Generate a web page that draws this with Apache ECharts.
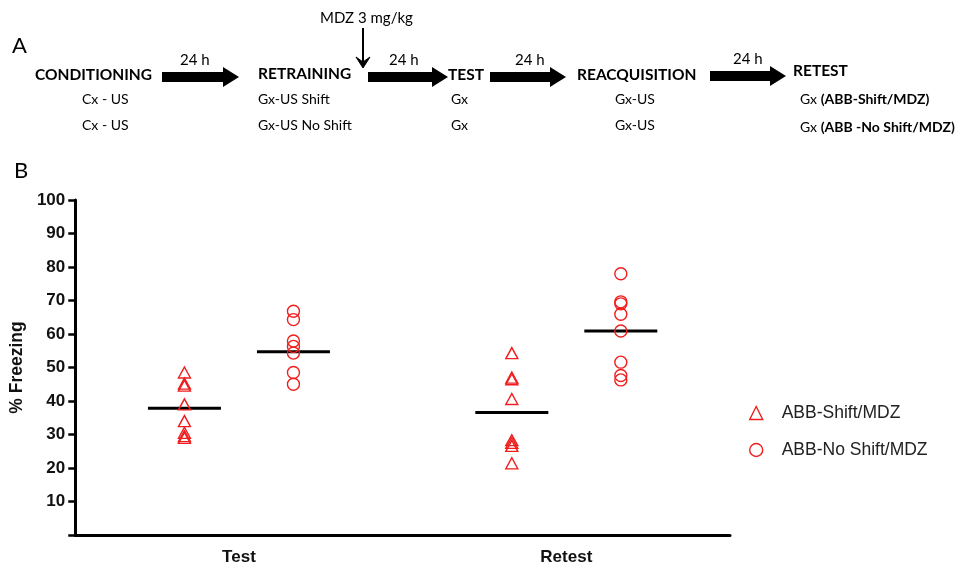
<!DOCTYPE html>
<html>
<head>
<meta charset="utf-8">
<script src="https://cdn.jsdelivr.net/npm/echarts@6/dist/echarts.min.js"></script>
<style>
html,body{margin:0;padding:0;background:#fff;}
#chart{width:974px;height:570px;}
</style>
</head>
<body>
<div id="chart"></div>
<script>
// ---- data ----
var categories = ['Test', 'Retest'];
var seriesNames = ['ABB-Shift/MDZ', 'ABB-No Shift/MDZ'];
var shiftTest = [48.5, 45.2, 44.6, 39.0, 34.0, 30.5, 29.5, 29.0];
var shiftRetest = [54.3, 47.0, 46.5, 40.6, 28.3, 27.5, 26.6, 21.4];
var noShiftTest = [66.8, 64.3, 57.9, 56.3, 54.3, 48.5, 45.0];
var noShiftRetest = [78.0, 69.6, 69.0, 65.9, 60.9, 51.6, 47.6, 46.3];
var shiftMeans = [37.8, 36.6];
var noShiftMeans = [54.7, 60.9];
var yTicks = [10, 20, 30, 40, 50, 60, 70, 80, 90, 100];

function pts(a, b) {
  return a.map(function (v) { return [0, v]; }).concat(b.map(function (v) { return [1, v]; }));
}
function meanPts(m) { return m.map(function (v, i) { return [i, v]; }); }

var RED = '#f01e1e';
var DODGE = 54.5;
var chart = echarts.init(document.getElementById('chart'));

var bodyFont = 'Lato, "Open Sans", sans-serif';
var axisFont = '"Liberation Sans", Arial, sans-serif';
function arrow(x0, x1, cy) {
  return {
    type: 'polygon',
    shape: { points: [[x0, cy - 5], [x1 - 16, cy - 5], [x1 - 16, cy - 10], [x1, cy], [x1 - 16, cy + 10], [x1 - 16, cy + 5], [x0, cy + 5]] },
    style: { fill: '#000' }
  };
}
function txt(x, y, s, opt) {
  opt = opt || {};
  return {
    type: 'text', left: x, top: y - (opt.size || 14) / 2 - 1,
    style: { text: s, font: (opt.bold ? 'bold ' : '') + (opt.size || 14) + 'px ' + bodyFont, fill: '#000' }
  };
}

var graphics = [
  txt(12, 47, 'A', { size: 22 }),
  txt(14, 172, 'B', { size: 22 }),
  txt(320, 19, 'MDZ 3 mg/kg', { size: 15 }),
  { type: 'line', shape: { x1: 363, y1: 28, x2: 363, y2: 64 }, style: { stroke: '#000', lineWidth: 2 } },
  { type: 'polygon', shape: { points: [[356, 57], [363, 68], [370, 57], [363, 62]] }, style: { fill: '#000', stroke: '#000', lineWidth: 1 } },
  txt(35, 76, 'CONDITIONING', { bold: true, size: 15.5 }),
  arrow(162, 239, 77),
  txt(180, 61, '24 h', { size: 15 }),
  txt(82, 100, 'Cx - US'),
  txt(82, 126, 'Cx - US'),
  txt(258, 75, 'RETRAINING', { bold: true, size: 15.5 }),
  txt(258, 100, 'Gx-US Shift'),
  txt(258, 126, 'Gx-US No Shift'),
  arrow(368, 448, 77),
  txt(389, 61, '24 h', { size: 15 }),
  txt(448, 76, 'TEST', { bold: true, size: 15.5 }),
  txt(451, 100, 'Gx'),
  txt(451, 126, 'Gx'),
  arrow(490, 566, 77),
  txt(515, 61, '24 h', { size: 15 }),
  txt(577, 76, 'REACQUISITION', { bold: true, size: 15.5 }),
  txt(615, 100, 'Gx-US'),
  txt(615, 126, 'Gx-US'),
  arrow(710, 786, 76),
  txt(733, 60, '24 h', { size: 15 }),
  txt(793, 72, 'RETEST', { bold: true, size: 15.5 }),
  {
    type: 'text', left: 800, top: 92,
    style: { rich: { n: { font: '14px ' + bodyFont, fill: '#000' }, b: { font: 'bold 14px ' + bodyFont, fill: '#000' } }, text: '{n|Gx }{b|(ABB-Shift/MDZ)}' }
  },
  {
    type: 'text', left: 800, top: 120,
    style: { rich: { n: { font: '14px ' + bodyFont, fill: '#000' }, b: { font: 'bold 14px ' + bodyFont, fill: '#000' } }, text: '{n|Gx }{b|(ABB -No Shift/MDZ)}' }
  }
];

var markerStyle = { color: 'rgba(0,0,0,0)', borderColor: RED, borderWidth: 1.4, opacity: 1 };

var option = {
  animation: false,
  backgroundColor: '#fff',
  graphic: graphics,
  grid: { left: 71, right: 244, top: 200, bottom: 35, containLabel: false },
  legend: {
    orient: 'vertical', left: 744, top: 399, itemGap: 19, itemWidth: 13, itemHeight: 13,
    textStyle: { fontFamily: axisFont, fontSize: 17.5, color: '#222', padding: [0, 0, 0, 14] },
    data: [
      { name: seriesNames[0], icon: 'triangle', itemStyle: markerStyle },
      { name: seriesNames[1], icon: 'circle', itemStyle: markerStyle }
    ]
  },
  xAxis: {
    type: 'category', data: categories, boundaryGap: true,
    axisLine: { lineStyle: { color: '#000', width: 3 } },
    axisTick: { alignWithLabel: true, length: 7, lineStyle: { color: '#000', width: 2.5 } },
    axisLabel: { color: '#111', fontFamily: axisFont, fontWeight: 'bold', fontSize: 17, margin: 14 },
    splitLine: { show: false }
  },
  yAxis: {
    type: 'value', min: 0, max: 100, interval: 10,
    name: '% Freezing', nameLocation: 'middle', nameGap: 48, nameRotate: 90,
    nameTextStyle: { fontFamily: axisFont, fontWeight: 'bold', fontSize: 17.5, color: '#111' },
    axisLine: { show: true, lineStyle: { color: '#000', width: 3 } },
    axisTick: { show: true, length: 7, lineStyle: { color: '#000', width: 2.5 } },
    axisLabel: {
      color: '#111', fontFamily: axisFont, fontWeight: 'bold', fontSize: 17, margin: 10,
      formatter: function (v) { return yTicks.indexOf(v) >= 0 ? String(v) : ''; }
    },
    splitLine: { show: false }
  },
  series: [
    {
      name: 'mean-shift', type: 'scatter', symbol: 'rect', symbolSize: [73, 3], symbolOffset: [-DODGE, 0],
      itemStyle: { color: '#000', opacity: 1 }, data: meanPts(shiftMeans), z: 1, silent: true
    },
    {
      name: 'mean-noshift', type: 'scatter', symbol: 'rect', symbolSize: [73, 3], symbolOffset: [DODGE, 0],
      itemStyle: { color: '#000', opacity: 1 }, data: meanPts(noShiftMeans), z: 1, silent: true
    },
    {
      name: seriesNames[0], type: 'scatter', symbol: 'triangle', symbolSize: [12, 11], symbolOffset: [-DODGE, 0],
      itemStyle: markerStyle, data: pts(shiftTest, shiftRetest), z: 3
    },
    {
      name: seriesNames[1], type: 'scatter', symbol: 'circle', symbolSize: 12, symbolOffset: [DODGE, 0],
      itemStyle: markerStyle, data: pts(noShiftTest, noShiftRetest), z: 3
    }
  ]
};
chart.setOption(option);
</script>
</body>
</html>
